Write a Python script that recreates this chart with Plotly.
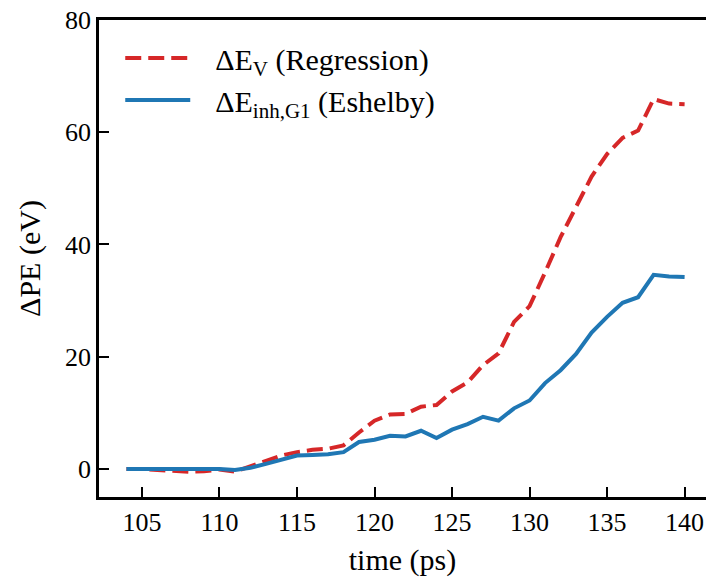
import plotly.graph_objects as go

time_ps = list(range(104, 141))

dE_regression = [0.0, 0.0, -0.2, -0.4, -0.5, -0.4, -0.1, -0.5, 0.5, 1.4,
                 2.4, 3.0, 3.4, 3.6, 4.2, 6.5, 8.6, 9.7, 9.8, 11.1,
                 11.4, 13.8, 15.4, 18.5, 20.6, 26.2, 29.0, 35.0, 41.3, 46.7,
                 52.1, 56.1, 59.0, 60.3, 65.9, 65.1, 65.0]

dE_eshelby = [0.0, 0.0, -0.05, -0.1, -0.1, -0.1, 0.0, -0.2, 0.2, 0.9,
              1.7, 2.4, 2.5, 2.6, 3.0, 4.8, 5.2, 5.9, 5.8, 6.8,
              5.5, 7.0, 8.0, 9.3, 8.6, 10.8, 12.2, 15.3, 17.6, 20.5,
              24.3, 27.1, 29.6, 30.6, 34.6, 34.3, 34.2]

x_ticks = [105, 110, 115, 120, 125, 130, 135, 140]
y_ticks = [0, 20, 40, 60, 80]

FONT = "Liberation Serif, DejaVu Serif, serif"
GAP = "\u2002\u2006"

fig = go.Figure()
fig.add_trace(go.Scatter(
    x=time_ps, y=dE_regression, mode="lines",
    name=GAP + "ΔE<sub>V</sub> (Regression)",
    line=dict(color="#d62728", width=4, dash="16px,7px"),
))
fig.add_trace(go.Scatter(
    x=time_ps, y=dE_eshelby, mode="lines",
    name=GAP + "ΔE<sub>inh,G1</sub> (Eshelby)",
    line=dict(color="#1f77b4", width=4),
))

fig.update_layout(
    width=706, height=580,
    margin=dict(l=99, r=0, t=20, b=83, autoexpand=False),
    paper_bgcolor="white", plot_bgcolor="white",
    font=dict(family=FONT, size=26, color="black"),
    showlegend=True,
    legend=dict(x=0.035, y=0.975, xanchor="left", yanchor="top",
                bgcolor="rgba(0,0,0,0)", itemwidth=65,
                font=dict(family=FONT, size=30), tracegroupgap=0),
    xaxis=dict(
        range=[102.23, 141.38], tickvals=x_ticks, automargin=False,
        ticks="inside", ticklen=10, tickwidth=2, tickcolor="black",
        showline=True, linecolor="black", linewidth=2.5, mirror=True,
        showgrid=False, zeroline=False, ticklabeloverflow="allow",
        title=dict(text="time (ps)", standoff=14, font=dict(family=FONT, size=30)),
        tickfont=dict(family=FONT, size=26),
    ),
    yaxis=dict(
        range=[-5, 80], tickvals=y_ticks, automargin=False,
        ticks="inside", ticklen=10, tickwidth=2, tickcolor="black",
        showline=True, linecolor="black", linewidth=2.5, mirror=False,
        showgrid=False, zeroline=False, ticklabeloverflow="allow",
        title=dict(text="ΔPE (eV)", standoff=16, font=dict(family=FONT, size=30)),
        tickfont=dict(family=FONT, size=26),
    ),
)

# remove the default 8px page margin so the 706x580 figure fills the window
fig.write_html(
    "out.html",
    config={"displayModeBar": False},
    post_script="document.body.style.margin='0';"
                "document.documentElement.style.overflow='hidden';",
)
